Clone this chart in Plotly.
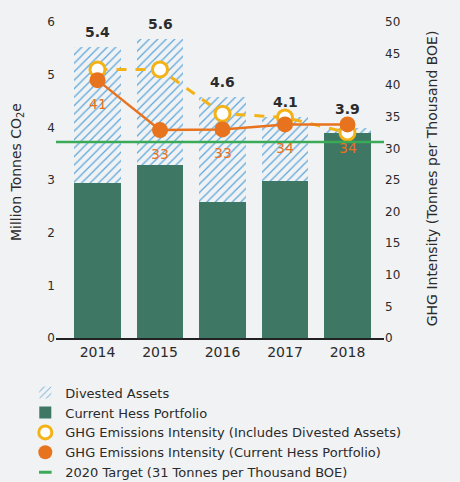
import plotly.graph_objects as go

years = ["2014", "2015", "2016", "2017", "2018"]
current_portfolio = [2.94, 3.28, 2.58, 2.98, 3.89]
total_emissions = [5.52, 5.68, 4.58, 4.20, 3.98]
total_labels = ["5.4", "5.6", "4.6", "4.1", "3.9"]
divested_assets = [round(t - c, 2) for t, c in zip(total_emissions, current_portfolio)]
intensity_incl_divested = [42.5, 42.5, 35.5, 34.9, 32.5]
intensity_current = [40.8, 32.9, 33.0, 33.8, 33.8]
intensity_current_labels = ["41", "33", "33", "34", "34"]
target_2020 = 31
left_title = "Million Tonnes CO<sub>2</sub>e"
right_title = "GHG Intensity (Tonnes per Thousand BOE)"

BG = "#F1F2F4"
DARK_GREEN = "#3E7763"
HATCH_BLUE = "#5AA6DB"
ORANGE = "#E8731E"
YELLOW = "#F3B216"
TARGET_GREEN = "#3BAA57"
TEXT = "#2B2B2B"
FONT = "DejaVu Sans"

LEFT_MAX = 6
RIGHT_MAX = 50

xpos = list(range(len(years)))

fig = go.Figure()

fig.add_trace(go.Bar(
    x=xpos, y=current_portfolio, name="Current Hess Portfolio",
    marker=dict(color=DARK_GREEN, line=dict(width=0)), width=0.75,
    legendrank=2,
))
fig.add_trace(go.Bar(
    x=xpos, y=divested_assets, name="Divested Assets",
    marker=dict(color=BG, line=dict(width=0),
                pattern=dict(shape="/", fgcolor=HATCH_BLUE, bgcolor=BG,
                             size=6, solidity=0.2, fillmode="replace")),
    width=0.75, legendrank=1,
))

fig.add_trace(go.Scatter(
    x=xpos, y=intensity_incl_divested, mode="lines+markers", yaxis="y2",
    line=dict(color=YELLOW, width=3, dash="10px,9px"),
    marker=dict(symbol="circle", size=15, color="white",
                line=dict(color=YELLOW, width=3)),
    showlegend=False,
))
fig.add_trace(go.Scatter(
    x=xpos, y=intensity_current, mode="lines+markers", yaxis="y2",
    line=dict(color=ORANGE, width=2.5),
    marker=dict(symbol="circle", size=16, color=ORANGE),
    showlegend=False,
))

# legend-only entries (no drawn points)
fig.add_trace(go.Scatter(
    x=[None], y=[None], mode="markers",
    name="GHG Emissions Intensity (Includes Divested Assets)",
    marker=dict(symbol="circle", size=13, color="white",
                line=dict(color=YELLOW, width=3)),
    legendrank=3,
))
fig.add_trace(go.Scatter(
    x=[None], y=[None], mode="markers",
    name="GHG Emissions Intensity (Current Hess Portfolio)",
    marker=dict(symbol="circle", size=14, color=ORANGE),
    legendrank=4,
))
fig.add_trace(go.Scatter(
    x=[None], y=[None], mode="markers",
    name="2020 Target (31 Tonnes per Thousand BOE)",
    marker=dict(symbol="line-ew", size=9, color=TARGET_GREEN,
                line=dict(color=TARGET_GREEN, width=3)),
    legendrank=5,
))

# target line
fig.add_shape(type="line", xref="paper", x0=0, x1=1, yref="y2",
              y0=target_2020, y1=target_2020,
              line=dict(color=TARGET_GREEN, width=2.5), layer="above")

annotations = []
for xi, tot, lab, ci in zip(xpos, total_emissions, total_labels, intensity_current):
    anchor = max(tot, ci * LEFT_MAX / RIGHT_MAX)
    annotations.append(dict(x=xi, y=anchor, xref="x", yref="y", text=f"<b>{lab}</b>",
                            showarrow=False, yshift=15,
                            font=dict(family=FONT, size=14, color=TEXT)))
for xi, ci, lab in zip(xpos, intensity_current, intensity_current_labels):
    annotations.append(dict(x=xi, y=ci, xref="x", yref="y2", text=lab,
                            showarrow=False, yshift=-24,
                            font=dict(family=FONT, size=14, color=ORANGE)))
# axis titles
annotations.append(dict(x=-0.119, y=0.525, xref="paper", yref="paper", text=left_title,
                        textangle=-90, showarrow=False, xanchor="center", yanchor="middle",
                        font=dict(family=FONT, size=14, color=TEXT)))
annotations.append(dict(x=1.149, y=0.505, xref="paper", yref="paper", text=right_title,
                        textangle=-90, showarrow=False, xanchor="center", yanchor="middle",
                        font=dict(family=FONT, size=14, color=TEXT)))

fig.update_layout(
    width=460, height=482, autosize=False,
    margin=dict(l=56, r=76, t=22, b=144, autoexpand=False),
    paper_bgcolor=BG, plot_bgcolor=BG,
    barmode="stack",
    font=dict(family=FONT, size=13, color=TEXT),
    xaxis=dict(range=[-0.664, 4.584], tickvals=xpos, ticktext=years,
               showgrid=False, zeroline=False,
               showline=True, linecolor="#222222", linewidth=1.5,
               ticks="", tickfont=dict(size=14, color=TEXT)),
    yaxis=dict(range=[0, LEFT_MAX], dtick=1, showgrid=False, zeroline=False,
               showline=False, ticks="", tickfont=dict(size=12, color=TEXT)),
    yaxis2=dict(range=[0, RIGHT_MAX], dtick=5, overlaying="y", side="right",
                showgrid=False, zeroline=False, showline=False, ticks="",
                tickfont=dict(size=12, color=TEXT)),
    legend=dict(xref="container", yref="container", x=0.055, y=0.2165,
                xanchor="left", yanchor="top", orientation="v",
                font=dict(size=13, color=TEXT), bgcolor="rgba(0,0,0,0)",
                traceorder="normal"),
    annotations=annotations,
    showlegend=True,
)

fig.write_html("out.html", config={"displayModeBar": False},
               post_script="document.body.style.margin='0';document.body.style.background='%s';" % BG)
